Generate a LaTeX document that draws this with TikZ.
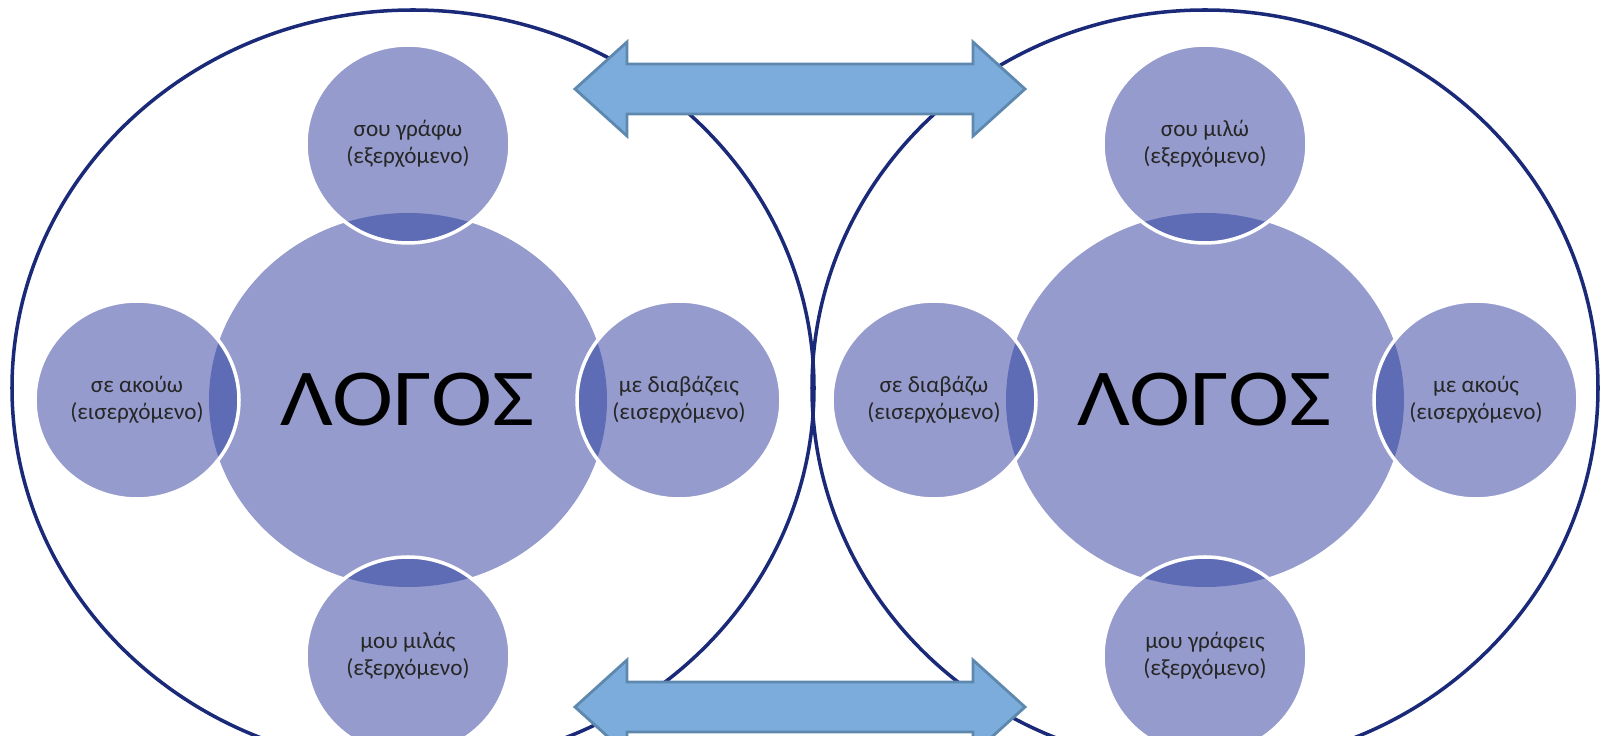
\documentclass[tikz,border=0pt]{standalone}
\usepackage{fontspec}
\setmainfont{Carlito}
\newfontfamily\logosfont[FakeStretch=1.14]{Carlito}
\usepackage{xcolor}
\usetikzlibrary{positioning,shapes.geometric}
\definecolor{ringblue}{HTML}{1B2A78}
\definecolor{discfill}{HTML}{959CCD}
\definecolor{lensfill}{HTML}{5E6BB5}
\definecolor{arrowfill}{HTML}{7BACDC}
\definecolor{arrowline}{HTML}{5E88AD}

\begin{document}
\begin{tikzpicture}[node distance=-3mm,
 ring/.style={ellipse,draw=ringblue,line width=1pt,inner sep=0pt,outer sep=0pt},
 logos/.style={ellipse,fill=discfill,minimum width=3.98cm,minimum height=3.74cm,inner sep=0pt,outer sep=0pt,font=\logosfont\fontsize{23}{26}\selectfont},
 satellite/.style={ellipse,fill=discfill,draw=white,line width=1pt,minimum width=2.04cm,minimum height=1.98cm,
   inner sep=0pt,outer sep=0pt,align=center,text=black!85,font=\fontsize{6.6}{7.8}\selectfont,
   path picture={\fill[lensfill] (#1.center) ellipse [x radius=1.99,y radius=1.87];}},
 wide/.style={draw=arrowline,fill=arrowfill,line width=0.8pt,line join=miter}]
\useasboundingbox (0,0) rectangle (16.01,7.36);
\node[ring,minimum width=8.02cm,minimum height=7.56cm] (sender) at (4.13,3.48) {};
\node[ring,minimum width=7.86cm,minimum height=7.56cm] (receiver) at (12.05,3.48) {};
% left side
\node[logos] (logosL) at (4.08,3.36) {ΛΟΓΟΣ};
\node[satellite=logosL,above=of logosL] (writeL) {σου γράφω\\(εξερχόμενο)};
\node[satellite=logosL,left=of logosL] (hearL) {σε ακούω\\(εισερχόμενο)};
\node[satellite=logosL,right=of logosL] (readL) {με διαβάζεις\\(εισερχόμενο)};
\node[satellite=logosL,below=of logosL] (speakL) {μου μιλάς\\(εξερχόμενο)};
% right side
\node[logos] (logosR) at (12.05,3.36) {ΛΟΓΟΣ};
\node[satellite=logosR,above=of logosR] (speakR) {σου μιλώ\\(εξερχόμενο)};
\node[satellite=logosR,left=of logosR] (readR) {σε διαβάζω\\(εισερχόμενο)};
\node[satellite=logosR,right=of logosR] (hearR) {με ακούς\\(εισερχόμενο)};
\node[satellite=logosR,below=of logosR] (writeR) {μου γράφεις\\(εξερχόμενο)};
% bridges
\coordinate (topW) at (5.75,6.47);
\coordinate (topE) at (10.25,6.47);
\coordinate (botW) at (5.75,0.29);
\coordinate (botE) at (10.25,0.29);
\draw[wide] (topW) -- ++(0.52,0.47) -- ++(0,-0.22) -- ++(3.46,0) -- ++(0,0.22) -- (topE)
  -- ++(-0.52,-0.47) -- ++(0,0.22) -- ++(-3.46,0) -- ++(0,-0.22) -- cycle;
\draw[wide] (botW) -- ++(0.52,0.47) -- ++(0,-0.22) -- ++(3.46,0) -- ++(0,0.22) -- (botE)
  -- ++(-0.52,-0.47) -- ++(0,0.22) -- ++(-3.46,0) -- ++(0,-0.22) -- cycle;
\end{tikzpicture}
\end{document}
